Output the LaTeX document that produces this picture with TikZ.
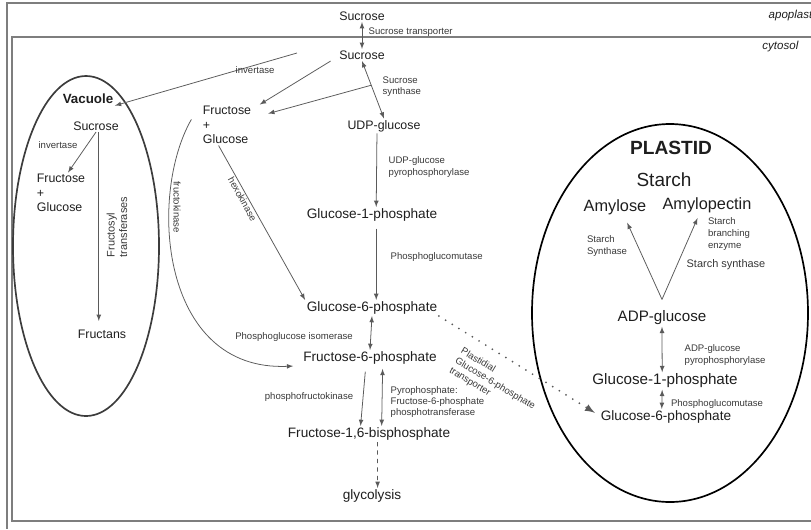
\documentclass[tikz,border=0pt]{standalone}
\usepackage{fontspec}
\setmainfont{Liberation Sans}
\usetikzlibrary{arrows}

\definecolor{txtgray}{HTML}{1E1E1E}
\definecolor{enzgray}{HTML}{383838}
\definecolor{arrgray}{HTML}{5A5A5A}
\definecolor{framegray}{HTML}{7E7E7E}
\definecolor{vacgray}{HTML}{3C3C3C}

\begin{document}
\begin{tikzpicture}[x=0.025cm,y=-0.025cm,>=latex,
phos/.style={font=\fontsize{9.7}{11}\selectfont, text=txtgray, inner sep=1pt},
sugar/.style={font=\fontsize{8.8}{10.3}\selectfont, text=txtgray, inner sep=1pt, align=left},
plast/.style={font=\fontsize{10.8}{12}\selectfont, text=txtgray, inner sep=1pt},
polymer/.style={font=\fontsize{11.6}{13}\selectfont, text=txtgray, inner sep=1pt},
enzyme/.style={font=\fontsize{6.8}{8}\selectfont, text=enzgray, inner sep=1pt, align=left},
enzbig/.style={font=\fontsize{7.8}{9}\selectfont, text=enzgray, inner sep=1pt, align=left},
compart/.style={font=\fontsize{8.2}{9}\selectfont\itshape, text=txtgray, inner sep=1pt},
organelle/.style={font=\bfseries, text=txtgray, inner sep=1pt},
paths/.style={->, draw=arrgray, line width=0.55pt},
twoway/.style={<->, draw=arrgray, line width=0.55pt},
transport/.style={->, draw=arrgray, line width=1.4pt, line cap=round, dash pattern=on 0pt off 5.6pt},
membrane/.style={line width=1.2pt},
border/.style={draw=framegray, line width=1.5pt}
]
\useasboundingbox (0,0) rectangle (811,529);

%% Rahmen %%%%%%%%%%%%%%%%%%%%%%%%%%%%%%%%%%%%%%%%%%%%%%%%%%%%%%%%%%%%%%%%%%%%%%%%%%
\draw[border] (811,3) -- (7,3) -- (7,529);
\draw[border] (811,37) -- (12,37) -- (12,521) -- (811,521);

%% Membranen
\draw[membrane, vacgray] (86,246) ellipse [x radius=73, y radius=170];
\draw[membrane, black] (670,313) ellipse [x radius=138, y radius=189];

%% Nodes   %%%%%%%%%%%%%%%%%%%%%%%%%%%%%%%%%%%%%%%%%%%%%%%%%%%%%%%%%%%%%%%%%%%%%%%

%% Kompartimente
\node[compart, anchor=east] (apo) at (814,16) {apoplast};
\node[compart, anchor=east] (cyt) at (800,47) {cytosol};
\node[organelle, font=\fontsize{9.5}{11}\selectfont\bfseries] (VacLbl) at (88,99) {Vacuole};
\node[organelle, font=\fontsize{13.6}{15}\selectfont\bfseries] (PlLbl) at (671,148) {PLASTID};

%% Cytosol
\node[sugar] (SucA) at (362,16)  {Sucrose};
\node[sugar] (SucC) at (362,55)  {Sucrose};
\node[sugar, inner xsep=5pt] (FG) at (227,125) {Fructose\\+\\Glucose};
\node[sugar] (UDP)  at (384,126) {UDP-glucose};
\node[phos]  (G1P)  at (372,215) {Glucose-1-phosphate};
\node[phos]  (G6P)  at (372,308) {Glucose-6-phosphate};
\node[phos]  (F6P)  at (370,358) {Fructose-6-phosphate};
\node[phos]  (FBP)  at (369,434) {Fructose-1,6-bisphosphate};
\node[phos]  (Glyc) at (372,496) {glycolysis};

%% Vakuole
\node[sugar] (VSuc)     at (96,126) {Sucrose};
\node[sugar] (VFG)      at (61,193) {Fructose\\+\\Glucose};
\node[sugar] (Fructans) at (102,334) {Fructans};

%% Plastide
\node[polymer, font=\fontsize{13.5}{15}\selectfont] (Starch) at (664,180) {Starch};
\node[polymer] (Amylose)  at (615,207) {Amylose};
\node[polymer] (Amylopec) at (707,205) {Amylopectin};
\node[plast]   (ADP)      at (662,318) {ADP-glucose};
\node[plast]   (G1Pp)     at (665,381) {Glucose-1-phosphate};
\node[phos]    (G6Pp)     at (666,417) {Glucose-6-phosphate};

%% Enzyme
\node[enzyme, anchor=west] (SucTr)  at (367,32)  {Sucrose transporter};
\node[enzyme, anchor=west] (SucSyn) at (381,87)  {Sucrose\\synthase};
\node[enzyme]              (VInv)   at (58,145)  {invertase};
\node[enzbig, rotate=90]   (FrTr)   at (117,227) {Fructosyl\\transferases};
\node[enzyme, rotate=-90]  (FrK)    at (177,207) {fructokinase};
\node[enzyme, anchor=west] (UDPpp)  at (387,167) {UDP-glucose\\pyrophosphorylase};
\node[enzyme, anchor=west] (PGM)    at (389,257) {Phosphoglucomutase};
\node[enzyme]              (PGI)    at (294,337) {Phosphoglucose isomerase};
\node[enzyme]              (PFK)    at (309,397) {phosphofructokinase};
\node[enzyme, anchor=west] (PFP)    at (389,402) {Pyrophosphate:\\Fructose-6-phosphate\\phosphotransferase};
\node[enzyme, rotate=-31]  (GPT)    at (495,384) {Plastidial\\Glucose-6-phosphate\\transporter};
\node[enzyme]              (SSa)    at (607,246) {Starch\\Synthase};
\node[enzyme, font=\fontsize{6.8}{8.5}\selectfont] (SBE) at (729,234) {Starch\\branching\\enzyme};
\node[enzbig]              (SSb)    at (726,265) {Starch synthase};
\node[enzyme, anchor=west] (AGPase) at (683,355) {ADP-glucose\\pyrophosphorylase};
\node[enzyme]              (PGMp)   at (717,404) {Phosphoglucomutase};

\coordinate (invS) at (297,53);
\coordinate (Vtx) at ([yshift=7pt]ADP.north);

%% Pfade %%%%%%%%%%%%%%%%%%%%%%%%%%%%%%%%%%%%%%%%%%%%%%%%%%%%%%%%%%%%%%%%%%%%%%%%%%%

%% Pfade Cytosol
\draw [twoway] (SucA) to (SucC);
\draw [paths] (invS) to node[enzyme, pos=.23, below] (CInv) {invertase} (VacLbl.south east);
\draw [paths] ([xshift=-5pt]SucC.south west) to ([xshift=1pt]FG.north east);
\draw [twoway] (SucC.south) to coordinate[pos=.42] (SSbr) (UDP.north);
\draw [paths] (SSbr) to ([xshift=7pt]FG.20);
\draw [paths] ([xshift=-6pt]FG.south) to node[enzyme, sloped, below, pos=.33] (HK) {hexokinase} (G6P.north west);
\draw [paths] ([xshift=-3pt,yshift=4pt]FG.west) .. controls (148,195) and (160,372) .. ([xshift=-6pt]F6P.south west);
\draw [paths] ([xshift=-5pt]UDP.south) to ([xshift=3pt]G1P.north);
\draw [paths, shorten <=4pt] ([xshift=3pt]G1P.south) to ([xshift=3pt]G6P.north);
\draw [twoway] (G6P.south) to (F6P.north);
\draw [paths, shorten <=4pt] ([xshift=-3pt]F6P.south) to ([xshift=-6pt]FBP.north);
\draw [twoway, shorten <=2pt] ([xshift=9pt]F6P.south) to ([xshift=9pt]FBP.north);
\draw [paths, dashed] ([xshift=6pt]FBP.south) to ([xshift=4pt]Glyc.north);

%% Pfade Vakuole
\draw [paths] (VSuc.south) to ([xshift=5pt]VFG.north);
\draw [paths, shorten >=5pt] ([xshift=2pt]VSuc.south) to ([xshift=2pt]VSuc.south |- Fructans.north);

%% Transporter
\draw [transport] (G6P.south east) to ([xshift=-3pt,yshift=3pt]G6Pp.west);

%% Pfade Plastide
\draw [paths, shorten >=5pt] (Vtx) to (Amylose.-45);
\draw [paths, shorten >=3pt] (Vtx) to (Amylopec.-130);
\draw [twoway] (ADP.south) to ([xshift=-2pt]G1Pp.north);
\draw [twoway] ([xshift=-2pt]G1Pp.south) to ([xshift=-3pt]G6Pp.north);

\end{tikzpicture}
\end{document}
